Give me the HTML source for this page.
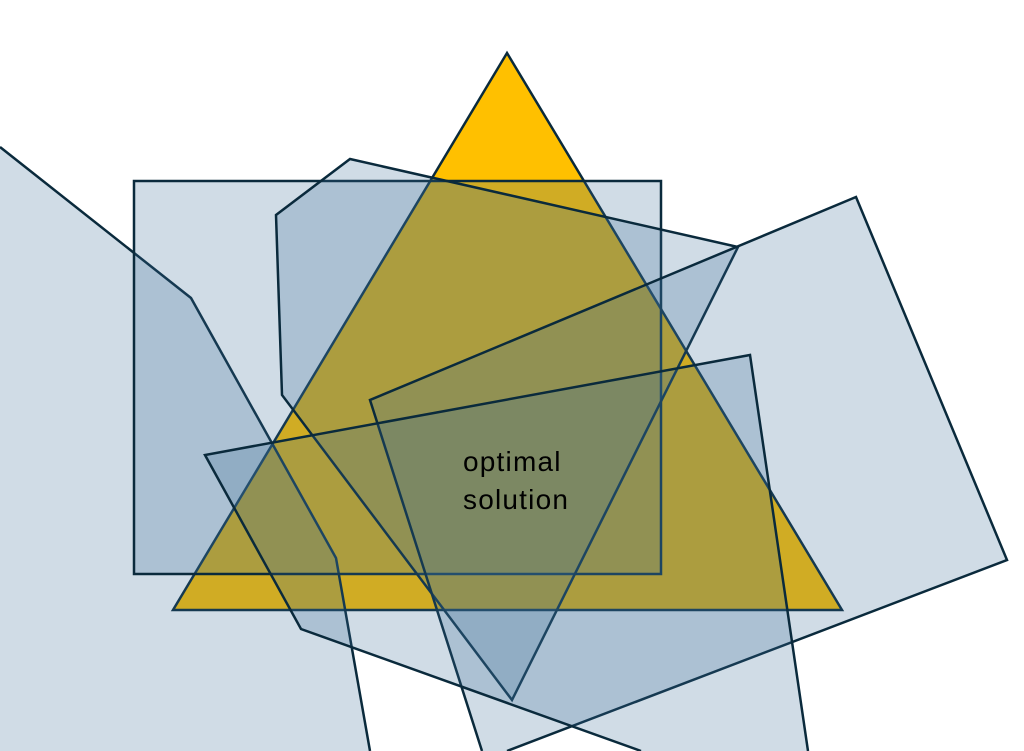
<!DOCTYPE html>
<html><head><meta charset="utf-8"><style>
html,body{margin:0;padding:0;background:#fff;width:1024px;height:751px;overflow:hidden;}
svg{display:block;overflow:hidden;}
text{font-family:"Liberation Sans",sans-serif;font-size:28px;letter-spacing:1.2px;fill:#000;}
</style></head><body>
<svg width="1024" height="751" viewBox="0 0 1024 751">
<g stroke="#0a2a3c" stroke-width="2.5" stroke-linejoin="miter">
<polygon points="507,53 842,610 173,610" fill="#ffc000"/>
<polygon points="0,147 191,298 336,558 370,751 0,751" fill="rgba(60,110,150,0.24)" stroke="none"/>
<polyline points="0,147 191,298 336,558 370,751" fill="none"/>
<polygon points="134,181 661,181 661,574 134,574" fill="rgba(60,110,150,0.24)"/>
<polygon points="350,159 738,247 512,700 282,395 276,215" fill="rgba(60,110,150,0.24)"/>
<polygon points="370,400 856,197 1007,560 507,751 482,751" fill="rgba(60,110,150,0.24)" stroke="none"/>
<polyline points="482,751 370,400 856,197 1007,560 507,751" fill="none"/>
<polygon points="205,455 750,355 808,751 641,751 301,629" fill="rgba(60,110,150,0.24)" stroke="none"/>
<polyline points="808,751 750,355 205,455 301,629 641,751" fill="none"/>
</g>
<text x="463" y="471">optimal</text>
<text x="463" y="509">solution</text>
</svg>
</body></html>
